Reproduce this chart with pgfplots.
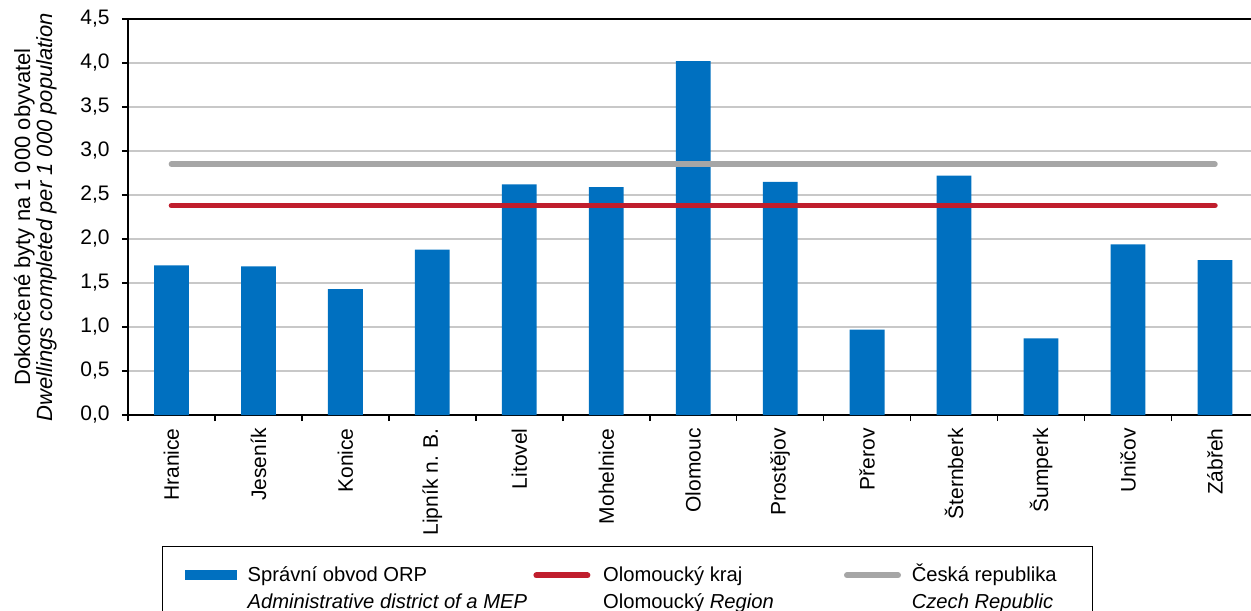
\documentclass[border=0pt]{standalone}
\usepackage{pgfplots}
\pgfplotsset{compat=1.18}
\usepackage{fontspec}
\setmainfont{Liberation Sans}
\definecolor{barblue}{RGB}{0,112,192}
\definecolor{linered}{RGB}{192,30,45}
\definecolor{linegray}{RGB}{166,166,166}
\definecolor{gridgray}{RGB}{200,200,200}
\newcommand{\legtext}[3]{\vtop{\baselineskip=13.5pt\hbox to #1{#2\hss}\hbox to #1{#3\hss}}}
\begin{document}
\begin{tikzpicture}[font=\fontsize{10}{12}\selectfont]
\useasboundingbox (-64pt,-97.5pt) rectangle (561.5pt,207.5pt);
\begin{axis}[
  at={(0pt,0pt)}, anchor=south west,
  scale only axis, width=565.2pt, height=198pt,
  xmin=-0.5, xmax=12.5, ymin=0, ymax=4.5,
  enlargelimits=false,
  axis line style={line width=0.9pt, black},
  tick pos=left, tick align=outside,
  major tick length=3pt, minor tick length=3pt,
  xtick={0,...,12},
  xticklabels={Hranice,Jeseník,Konice,Lipník n. B.,Litovel,Mohelnice,Olomouc,Prostějov,Přerov,Šternberk,Šumperk,Uničov,Zábřeh},
  major x tick style={draw=none},
  minor xtick={-0.5,0.5,...,12.5},
  minor x tick style={black, line width=0.8pt},
  ytick={0,0.5,...,4.5},
  y tick style={black, line width=0.8pt},
  ymajorgrids, grid style={gridgray, line width=0.6pt},
  tick label style={font=\fontsize{10.5}{12}\selectfont},
  xticklabel style={yshift=-3.5pt, rotate=90, anchor=east, inner sep=0pt},
  yticklabel style={anchor=east, inner sep=0pt, xshift=-6pt},
  /pgf/number format/.cd, fixed, fixed zerofill, precision=1, use comma, assume math mode=true,
  /pgfplots/.cd,
  ylabel={Dokončené byty na 1 000 obyvatel\\\textit{Dwellings completed per 1 000 population}},
  ylabel style={align=center, font=\fontsize{11}{11}\selectfont, at={(axis description cs:-0.0628,0.5)}, anchor=south, inner sep=0pt},
  legend columns=3,
  legend style={at={(axis description cs:0,0)}, anchor=north west, xshift=17pt, yshift=-65.5pt,
    draw=black, line width=0.6pt, inner sep=0pt, column sep=0pt, row sep=0pt,
    font=\fontsize{10.1}{12}\selectfont,
    cells={anchor=base west}, nodes={inner sep=0pt, anchor=base west}},
]
\addplot[ybar, bar width=0.4, fill=barblue, draw=none,
  legend image code/.code={\path (0pt,-25pt) (42.5pt,16pt); \fill[barblue, draw=none] (11pt,0.5pt) rectangle (37pt,5.5pt);}]
  coordinates {(0,1.70) (1,1.69) (2,1.43) (3,1.88) (4,2.62) (5,2.59) (6,4.02) (7,2.65) (8,0.97) (9,2.72) (10,0.87) (11,1.94) (12,1.76)};
\addlegendentry{\legtext{141.5pt}{Správní obvod ORP}{\itshape Administrative district of a MEP}}
\addplot[linered, line width=2.8pt, line cap=round, mark=none,
  legend image code/.code={\path (0pt,-25pt) (33.5pt,16pt); \draw[linered, line width=3pt, line cap=round] (1.5pt,3pt) -- (27pt,3pt);}]
  coordinates {(0,2.38) (1,2.38) (2,2.38) (3,2.38) (4,2.38) (5,2.38) (6,2.38) (7,2.38) (8,2.38) (9,2.38) (10,2.38) (11,2.38) (12,2.38)};
\addlegendentry{\legtext{119pt}{Olomoucký kraj}{Olomoucký \textit{Region}}}
\addplot[linegray, line width=2.8pt, line cap=round, mark=none,
  legend image code/.code={\path (0pt,-25pt) (32.5pt,16pt); \draw[linegray, line width=3pt, line cap=round] (1.5pt,3pt) -- (27pt,3pt);}]
  coordinates {(0,2.85) (1,2.85) (2,2.85) (3,2.85) (4,2.85) (5,2.85) (6,2.85) (7,2.85) (8,2.85) (9,2.85) (10,2.85) (11,2.85) (12,2.85)};
\addlegendentry{\legtext{90.5pt}{Česká republika}{\itshape Czech Republic}}
\end{axis}
\end{tikzpicture}
\end{document}
